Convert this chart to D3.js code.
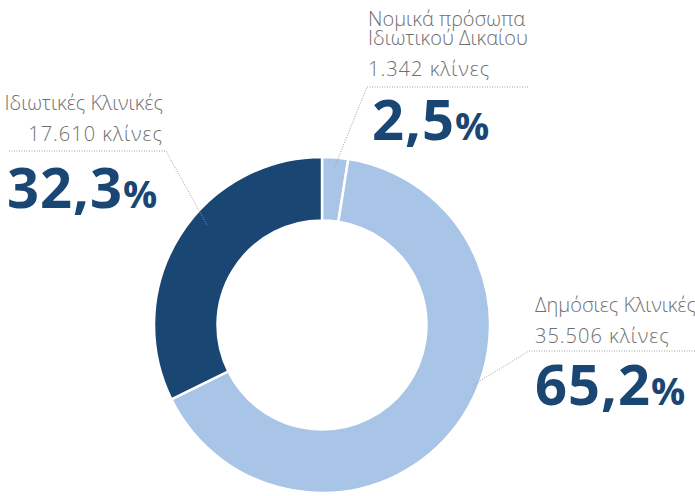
<!DOCTYPE html>
<html>
<head>
<meta charset="utf-8">
<script src="https://cdn.jsdelivr.net/npm/d3@7"></script>
<style>
  body { margin: 0; background: #fff; }
  svg { display: block; }
  .lbl { font-family: "Open Sans", sans-serif; font-weight: 300; fill: #6f6f6f; }
  .pct { font-family: "Open Sans", sans-serif; font-weight: 700; fill: #1a4674; }
</style>
</head>
<body>
<svg id="chart" width="695" height="496"></svg>
<script>
// data
const categories = ["Νομικά πρόσωπα|Ιδιωτικού Δικαίου", "Δημόσιες Κλινικές", "Ιδιωτικές Κλινικές"];
const beds = ["1.342", "35.506", "17.610"];
const shares = [2.5, 65.2, 32.3];
const colors = ["#a8c4e6", "#a8c4e6", "#1a4674"];

// layout for the callouts (not data)
const callouts = [
  { x: 368, y: 26, anchor: "start", lineY: 87, x0: 367, x1: 528, angle: 4.5, r: 158, pctX: 372, pctY: 140 },
  { x: 535, y: 312, anchor: "start", lineY: 351, x0: 529, x1: 695, angle: 112, r: 162, pctX: 535, pctY: 405 },
  { x: 163, y: 110, anchor: "end", lineY: 151, x0: 9, x1: 166, angle: 311, r: 152, pctX: 7, pctY: 208 }
];

const svg = d3.select('#chart');
const cx = 322, cy = 325;
const g = svg.append('g').attr('transform', `translate(${cx},${cy})`);

const pie = d3.pie().sort(null).value(d => d);
const arc = d3.arc().innerRadius(104.5).outerRadius(168);

g.selectAll('path')
  .data(pie(shares))
  .enter().append('path')
  .attr('d', arc)
  .attr('fill', (d, i) => colors[i])
  .attr('stroke', '#fff')
  .attr('stroke-width', 2.5);

// leader lines + labels
callouts.forEach((c, i) => {
  const a = c.angle * Math.PI / 180;
  const px = cx + c.r * Math.sin(a), py = cy - c.r * Math.cos(a);
  const elbowX = c.anchor === "end" ? c.x1 : c.x0;
  svg.append('path')
    .attr('d', `M${c.anchor === "end" ? c.x0 : c.x1},${c.lineY}L${elbowX},${c.lineY}L${px},${py}`)
    .attr('fill', 'none')
    .attr('stroke', '#a0a0a0')
    .attr('stroke-width', 1)
    .attr('stroke-dasharray', '1,1.5');

  // one text element per callout so the tight lines stay together
  const t = svg.append('text').attr('font-size', 20);
  const lines = categories[i].split('|');
  lines.forEach((s, k) => {
    t.append('tspan').attr('class', 'lbl')
      .attr('x', c.x).attr('y', c.y + k * 19)
      .attr('text-anchor', c.anchor)
      .text(s);
  });
  t.append('tspan').attr('class', 'lbl')
    .attr('x', c.x).attr('y', c.y + lines.length * 19 + 12)
    .attr('text-anchor', c.anchor)
    .attr('letter-spacing', 1)
    .text(beds[i] + ' κλίνες');
  t.append('tspan').attr('class', 'pct')
    .attr('x', c.pctX).attr('y', c.pctY)
    .attr('text-anchor', 'start')
    .attr('font-size', 56)
    .attr('letter-spacing', 1)
    .text(String(shares[i]).replace('.', ','));
  t.append('tspan').attr('class', 'pct')
    .attr('font-size', 38)
    .text('%');
});
</script>
</body>
</html>
